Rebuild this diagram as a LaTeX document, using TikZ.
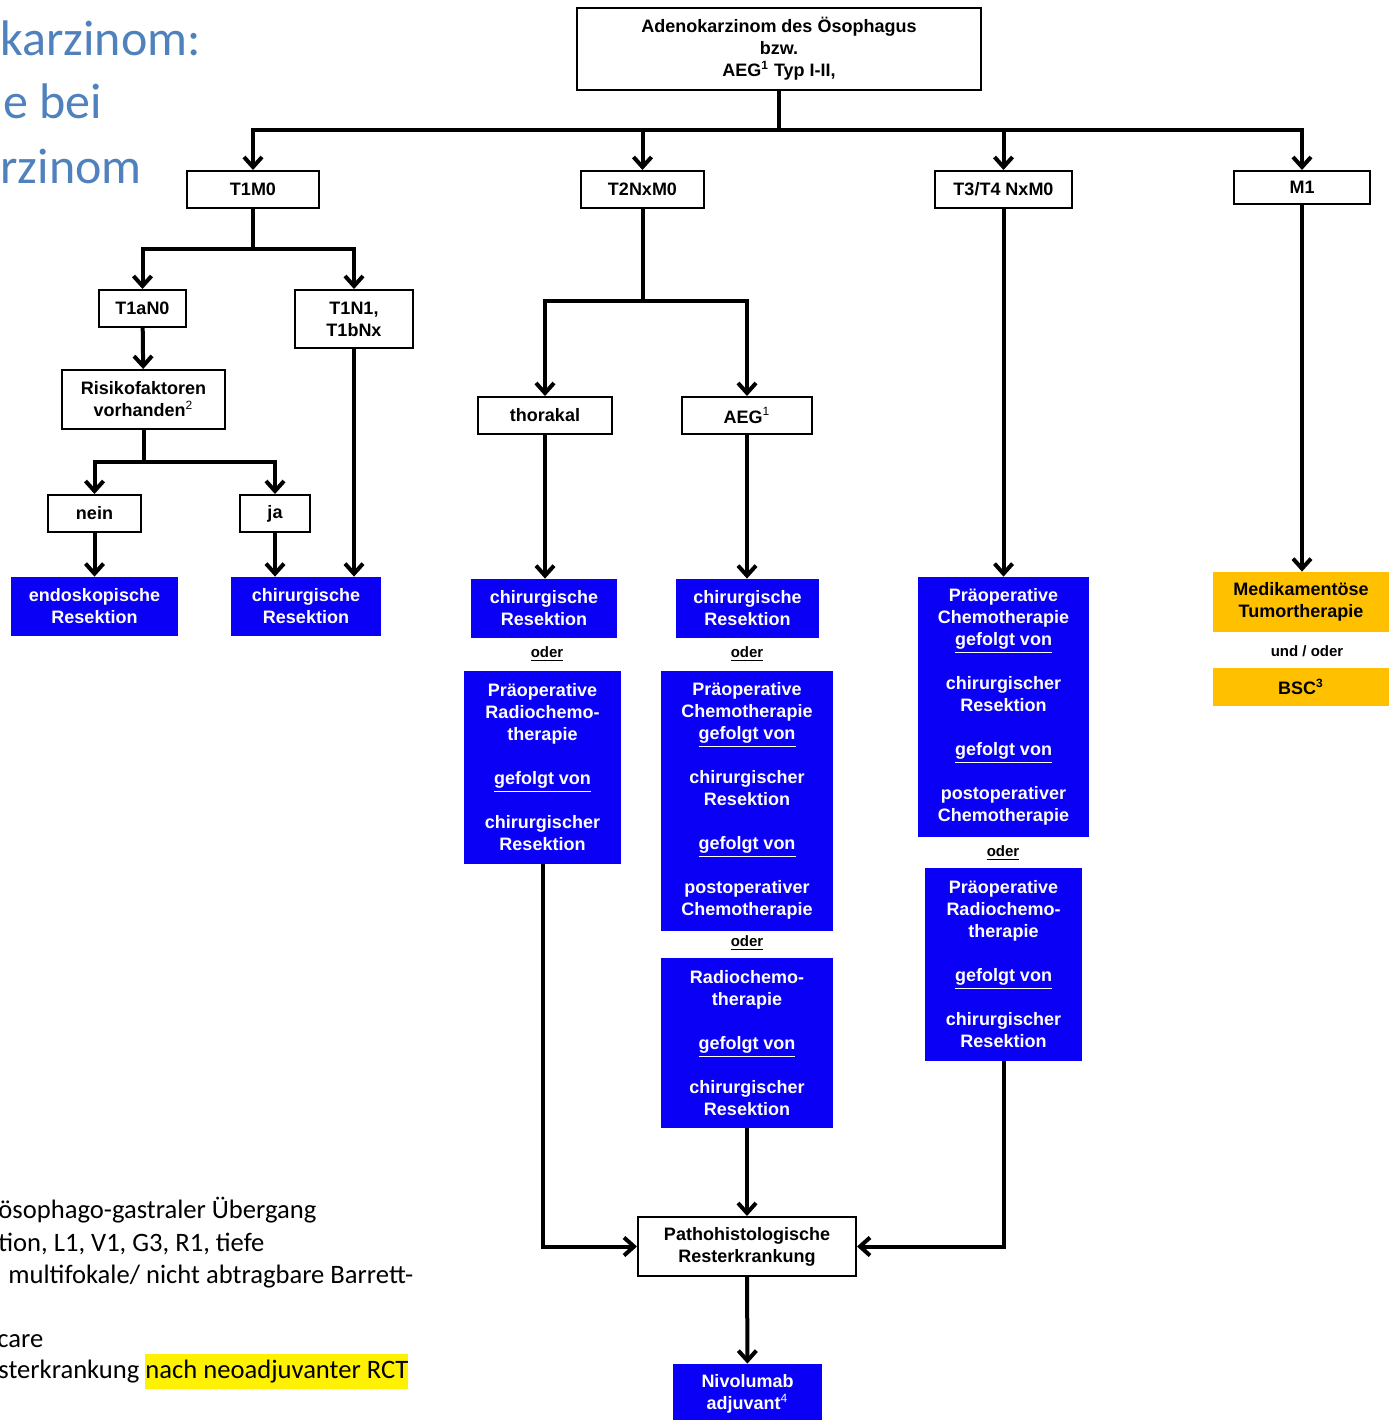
\documentclass[tikz,border=0pt]{standalone}
\usepackage{fontspec}
\setmainfont{Liberation Sans}
\newfontfamily\calibri{Carlito}
\usetikzlibrary{arrows.meta}
\definecolor{tblue}{RGB}{79,129,189}
\definecolor{bbl}{RGB}{10,0,245}
\definecolor{ylw}{RGB}{255,192,0}
\begin{document}
\begin{tikzpicture}[x=0.5pt,y=-0.5pt,
  sz/.style 2 args={minimum width=#1*0.5pt,minimum height=#2*0.5pt},
  box/.style={draw=black,line width=1pt,inner sep=0pt,align=center,font=\fontsize{9}{11}\selectfont\bfseries},
  bluebox/.style={fill=bbl,draw=none,inner sep=0pt,align=center,text=white,font=\fontsize{9}{11}\selectfont\bfseries},
  ybox/.style={fill=ylw,draw=none,inner sep=0pt,align=center,text=black,font=\fontsize{9}{11}\selectfont\bfseries},
  conn/.style={line width=2pt,line join=miter,-{Straight Barb[length=5pt,width=9pt]}},
  small/.style={inner sep=0pt,font=\fontsize{7.5}{9}\selectfont\bfseries},
  ttl/.style={inner sep=0pt,anchor=base west,text=tblue,font=\calibri\fontsize{25}{30}\selectfont},
  foot/.style={inner sep=0pt,anchor=base west,text=black,font=\calibri\fontsize{13.3}{17.5}\selectfont}
]
\useasboundingbox (0,0) rectangle (1389,1420);

% title fragments
\node[ttl] (t1) at (0,55) {karzinom:};
\node[ttl] (t2) at (3,118) {e bei};
\node[ttl] (t3) at (0,183) {rzinom};

% footnotes
\node[foot] (f1) at (-2,1218) {ösophago-gastraler Übergang};
\node[foot] (f2) at (-2,1251) {tion, L1, V1, G3, R1, tiefe};
\node[foot] (f3) at (8,1283) {multifokale/ nicht abtragbare Barrett-};
\node[foot] (f5) at (-3,1347) {care};
\node[foot] (f6) at (-2,1378) {sterkrankung {\setlength\fboxsep{0pt}\colorbox{yellow}{\strut nach neoadjuvanter RCT}}};

% boxes
\node[box,sz={404}{82}] (top) at (779,49) {Adenokarzinom des Ösophagus\\bzw.\\AEG\textsuperscript{1} Typ I-II,};
\node[box,sz={132}{37}] (t1m0) at (253,189.5) {T1M0};
\node[box,sz={123}{37}] (t2) at (642.5,189.5) {T2NxM0};
\node[box,sz={137}{37}] (t3t4) at (1003.5,189.5) {T3/T4 NxM0};
\node[box,sz={136}{33}] (m1) at (1302,187.5) {M1};

\node[box,sz={87}{37}] (t1an0) at (142.5,308.5) {T1aN0};
\node[box,sz={118}{58}] (t1n1) at (354,319) {T1N1,\\T1bNx};
\node[box,sz={163}{59}] (risk) at (143.5,399.5) {Risikofaktoren\\vorhanden\textsuperscript{\mdseries 2}};
\node[box,sz={93}{37}] (nein) at (94.5,513.5) {nein};
\node[box,sz={70}{37}] (ja) at (275,513.5) {ja};
\node[bluebox,sz={167}{59}] (endo) at (94.5,606.5) {endoskopische\\Resektion};
\node[bluebox,sz={150}{59}] (chir1) at (306,606.5) {chirurgische\\Resektion};

\node[box,sz={134}{37}] (thor) at (545,415.5) {thorakal};
\node[box,sz={130}{37}] (aeg) at (747,415.5) {AEG\textsuperscript{\mdseries 1}};
\node[bluebox,sz={146}{59}] (chir2) at (544,608.5) {chirurgische\\Resektion};
\node[small] (oder1) at (547,654) {\underline{oder}};
\node[bluebox,sz={157}{193}] (rct1) at (542.5,767.5) {Präoperative\\Radiochemo-\\therapie\\[11pt]\underline{gefolgt von}\\[11pt]chirurgischer\\Resektion};

\node[bluebox,sz={143}{59}] (chir3) at (747.5,608.5) {chirurgische\\Resektion};
\node[small] (oder2) at (747,654) {\underline{oder}};
\node[bluebox,sz={172}{260}] (flot1) at (747,801) {Präoperative\\Chemotherapie\\\underline{gefolgt von}\\[11pt]chirurgischer\\Resektion\\[11pt]\underline{gefolgt von}\\[11pt]postoperativer\\Chemotherapie};
\node[small] (oder3) at (747,943) {\underline{oder}};
\node[bluebox,sz={172}{170}] (rct2) at (747,1043) {Radiochemo-\\therapie\\[11pt]\underline{gefolgt von}\\[11pt]chirurgischer\\Resektion};

\node[bluebox,sz={171}{260}] (flot2) at (1003.5,707) {Präoperative\\Chemotherapie\\\underline{gefolgt von}\\[11pt]chirurgischer\\Resektion\\[11pt]\underline{gefolgt von}\\[11pt]postoperativer\\Chemotherapie};
\node[small] (oder4) at (1003,853) {\underline{oder}};
\node[bluebox,sz={157}{193}] (rct3) at (1003.5,964.5) {Präoperative\\Radiochemo-\\therapie\\[11pt]\underline{gefolgt von}\\[11pt]chirurgischer\\Resektion};

\node[ybox,sz={176}{60}] (med) at (1301,602) {Medikamentöse\\Tumortherapie};
\node[small] (und) at (1307,651) {und / oder};
\node[ybox,sz={176}{38}] (bsc) at (1301,687) {BSC\textsuperscript{3}};

\node[box,sz={218}{59}] (patho) at (747,1246.5) {Pathohistologische\\Resterkrankung};
\node[bluebox,sz={149}{60}] (nivo) at (747.5,1394) {Nivolumab\\adjuvant\textsuperscript{\mdseries 4}};

% connectors
\coordinate (bar) at (779,130);
\draw[conn] (top.south) -- (bar) -| (t1m0.north);
\draw[conn] (top.south) -- (bar) -| (t2.north);
\draw[conn] (top.south) -- (bar) -| (t3t4.north);
\draw[conn] (top.south) -- (bar) -| (m1.north);

\coordinate (j1) at (253,249);
\draw[conn] (t1m0.south) -- (j1) -| (t1an0.north);
\draw[conn] (t1m0.south) -- (j1) -| (t1n1.north);
\draw[conn] (t1an0) -- (risk);
\coordinate (j2) at (143.5,462);
\draw[conn] (risk.south) -- (j2) -| (nein.north);
\draw[conn] (risk.south) -- (j2) -| (ja.north);
\draw[conn] (nein) -- (endo);
\draw[conn] (ja.south) -- (ja.south |- chir1.north);
\draw[conn] (t1n1.south) -- (t1n1.south |- chir1.north);

\coordinate (j3) at (642.5,301);
\draw[conn] (t2.south) -- (j3) -| (thor.north);
\draw[conn] (t2.south) -- (j3) -| (aeg.north);
\draw[conn] (thor.south) -- (thor.south |- chir2.north);
\draw[conn] (aeg.south) -- (aeg.south |- chir3.north);
\draw[conn] (t3t4.south) -- (t3t4.south |- flot2.north);
\draw[conn] (m1.south) -- (m1.south |- med.north);

\draw[conn] (rct1.south) |- (patho.west);
\draw[conn] (rct3.south) |- (patho.east);
\draw[conn] (rct2.south) -- (patho.north);
\draw[conn] (patho) -- (nivo);
\end{tikzpicture}
\end{document}
